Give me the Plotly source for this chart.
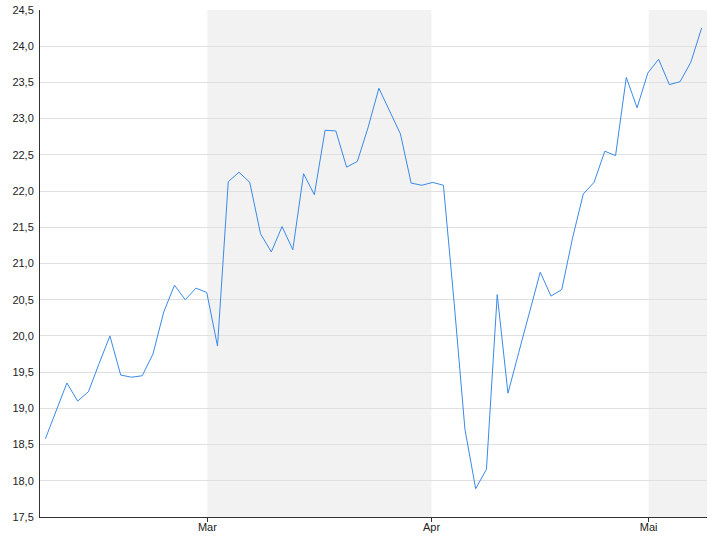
import plotly.graph_objects as go

# Daily values (trading-day index order)
values = [
    18.58, 18.96, 19.35, 19.10, 19.23, 19.62, 20.00, 19.46, 19.43, 19.45,
    19.75, 20.33, 20.70, 20.50, 20.66, 20.60, 19.86, 22.13, 22.26, 22.12,
    21.41, 21.16, 21.51, 21.19, 22.24, 21.95, 22.84, 22.83, 22.33, 22.41,
    22.88, 23.42, 23.10, 22.79, 22.11, 22.08, 22.12, 22.08, 20.45, 18.71,
    17.89, 18.16, 20.57, 19.21, 19.77, 20.32, 20.88, 20.55, 20.64, 21.35,
    21.96, 22.12, 22.55, 22.49, 23.57, 23.15, 23.63, 23.82, 23.47, 23.51,
    23.78, 24.25,
]
x_index = list(range(len(values)))

month_labels = ["Mar", "Apr", "Mai"]
month_starts = [15.06, 35.89, 56.07]   # month boundaries on the trading-day index
shaded_months = [(15.06, 35.89), (56.07, 61.5)]

y_ticks = [17.5, 18.0, 18.5, 19.0, 19.5, 20.0, 20.5, 21.0, 21.5, 22.0, 22.5, 23.0, 23.5, 24.0, 24.5]

fig = go.Figure()
fig.add_trace(go.Scatter(
    x=x_index, y=values, mode="lines",
    line=dict(color="#3a8ae8", width=1),
    hoverinfo="skip", showlegend=False,
))

for x0, x1 in shaded_months:
    fig.add_shape(type="rect", xref="x", yref="paper", x0=x0, x1=x1, y0=0, y1=1,
                  fillcolor="#f2f2f2", line=dict(width=0), layer="below")

fig.update_layout(
    width=720, height=540,
    margin=dict(l=40, r=13, t=10, b=23),
    paper_bgcolor="white", plot_bgcolor="white",
    separators=",.",
    font=dict(family="Liberation Sans, Arial, sans-serif", size=11, color="#222"),
    showlegend=False,
)
fig.update_xaxes(
    range=[-0.5, 61.5], automargin=False,
    tickmode="array", tickvals=month_starts, ticktext=month_labels,
    showgrid=False, zeroline=False,
    showline=True, linecolor="#333", linewidth=1,
    ticks="outside", ticklen=4, tickcolor="#333", tickwidth=1,
    ticklabelstandoff=-4,
)
fig.update_yaxes(
    range=[17.5, 24.5], automargin=False,
    tickmode="array", tickvals=y_ticks, tickformat=".1f",
    showgrid=True, gridcolor="#e0e0e0", gridwidth=1, zeroline=False,
    showline=True, linecolor="#333", linewidth=1,
    ticks="", ticklabelstandoff=3,
)

fig.write_html("out.html", config={"displayModeBar": False},
               post_script="document.body.style.margin='0';")
